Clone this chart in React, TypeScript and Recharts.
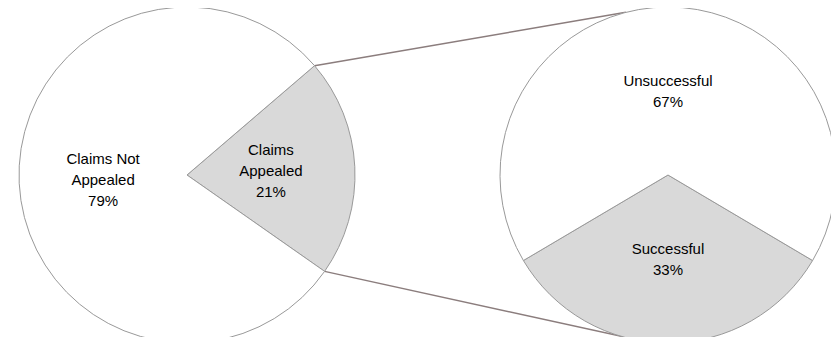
import React from 'react';
import { PieChart, Pie, Cell } from 'recharts';

// share of claims appealed, and outcome of those appeals
const claimNames = [['Claims', 'Appealed'], ['Claims Not', 'Appealed']];
const claimValues = [21, 79];
const appealNames = [['Successful'], ['Unsuccessful']];
const appealValues = [33, 67];

const claimData = claimNames.map((lines, i) => ({ name: lines.join(' '), lines, value: claimValues[i] }));
const appealData = appealNames.map((lines, i) => ({ name: lines.join(' '), lines, value: appealValues[i] }));

const WIDTH = 839;
const HEIGHT = 345;
const RADIUS = 168;
const LEFT = { cx: 187, cy: 175, start: -35 };
const RIGHT = { cx: 668, cy: 175, start: 210.6 };
const SLICE_FILLS = ['#d9d9d9', '#ffffff'];
const FONT = '"Liberation Sans", Arial, sans-serif';
const RAD = Math.PI / 180;

const polar = (cx: number, cy: number, r: number, deg: number) => ({
    x: cx + r * Math.cos(deg * RAD),
    y: cy - r * Math.sin(deg * RAD),
});

const renderLabel = (props: any) => {
    const { cx, cy, midAngle, outerRadius, payload } = props;
    const p = polar(cx, cy, outerRadius * 0.5, midAngle);
    const lines: string[] = [...payload.lines, `${payload.value}%`];
    const lh = 21;
    const top = -((lines.length - 1) * lh) / 2;
    return (
        <text x={p.x} y={p.y} textAnchor="middle" fontFamily={FONT} fontSize={15} fill="#000">
            {lines.map((l, i) => (
                <tspan key={i} x={p.x} y={p.y + top + i * lh} dominantBaseline="central">{l}</tspan>
            ))}
        </text>
    );
};

// connectors from the edges of the appealed slice across to the breakdown pie
const appealedSpan = (claimValues[0] / claimValues.reduce((a, b) => a + b, 0)) * 360;
const upperFrom = polar(LEFT.cx, LEFT.cy, RADIUS, LEFT.start + appealedSpan);
const lowerFrom = polar(LEFT.cx, LEFT.cy, RADIUS, LEFT.start);
const upperTo = polar(RIGHT.cx, RIGHT.cy, RADIUS, 104.5);
const lowerTo = polar(RIGHT.cx, RIGHT.cy, RADIUS, 262);

const App: React.FC = () => {
    return (
        <div style={{ position: 'relative', width: WIDTH, height: HEIGHT, margin: -8, background: '#fff' }}>
            <svg width={WIDTH} height={HEIGHT} style={{ position: 'absolute', left: 0, top: 0 }}>
                <line x1={upperFrom.x} y1={upperFrom.y} x2={upperTo.x} y2={upperTo.y} stroke="#8b7d7d" strokeWidth={1.5} />
                <line x1={lowerFrom.x} y1={lowerFrom.y} x2={lowerTo.x} y2={lowerTo.y} stroke="#8b7d7d" strokeWidth={1.5} />
            </svg>
            <div style={{ position: 'absolute', left: 0, top: 0 }}>
                <PieChart width={WIDTH} height={HEIGHT} margin={{ top: 0, right: 0, bottom: 0, left: 0 }}>
                    <Pie
                        data={claimData}
                        dataKey="value"
                        cx={LEFT.cx}
                        cy={LEFT.cy}
                        outerRadius={RADIUS}
                        startAngle={LEFT.start}
                        endAngle={LEFT.start + 360}
                        stroke="#999"
                        strokeWidth={1}
                        label={renderLabel}
                        labelLine={false}
                        isAnimationActive={false}
                    >
                        {claimData.map((d, i) => <Cell key={d.name} fill={SLICE_FILLS[i]} />)}
                    </Pie>
                    <Pie
                        data={appealData}
                        dataKey="value"
                        cx={RIGHT.cx}
                        cy={RIGHT.cy}
                        outerRadius={RADIUS}
                        startAngle={RIGHT.start}
                        endAngle={RIGHT.start + 360}
                        stroke="#999"
                        strokeWidth={1}
                        label={renderLabel}
                        labelLine={false}
                        isAnimationActive={false}
                    >
                        {appealData.map((d, i) => <Cell key={d.name} fill={SLICE_FILLS[i]} />)}
                    </Pie>
                </PieChart>
            </div>
        </div>
    );
};

export default App;
